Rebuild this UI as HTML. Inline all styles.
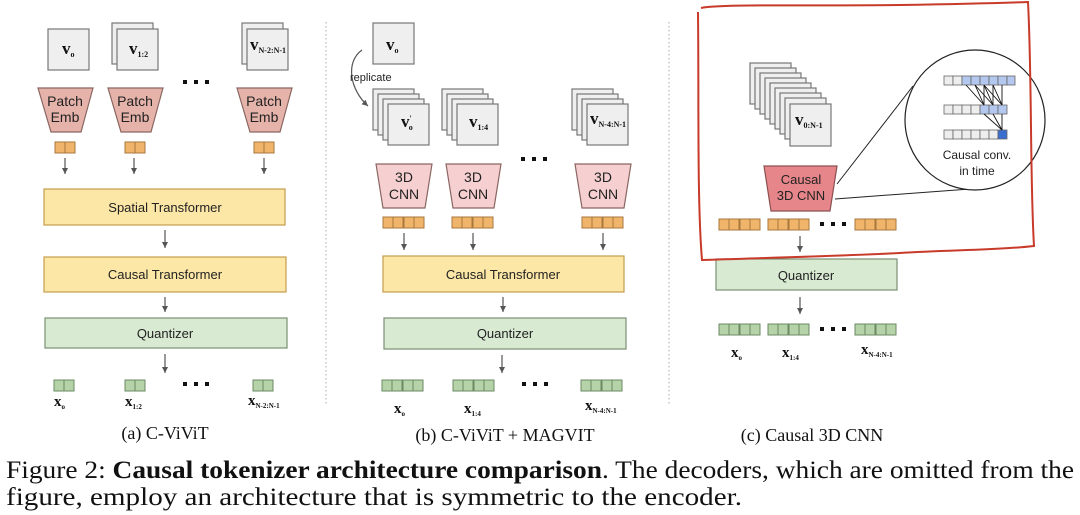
<!DOCTYPE html>
<html><head><meta charset="utf-8"><style>
html,body{margin:0;padding:0;background:#fff;width:1080px;height:515px;overflow:hidden}
svg{display:block}
.s{font-family:"Liberation Sans",sans-serif;fill:#222}
.r{font-family:"Liberation Serif",serif;fill:#111}
</style></head><body>
<svg width="1080" height="515" viewBox="0 0 1080 515" xmlns="http://www.w3.org/2000/svg">
<defs>
<marker id="ah" markerWidth="7" markerHeight="7" refX="6" refY="3" orient="auto" markerUnits="userSpaceOnUse"><path d="M0,0 L6,3 L0,6 z" fill="#555"/></marker>
<g id="o2"><rect x="0" y="0" width="10" height="11" fill="#f1b46b" stroke="#a8773c"/><rect x="10" y="0" width="10" height="11" fill="#f1b46b" stroke="#a8773c"/></g>
<g id="o4"><use href="#o2"/><use href="#o2" x="21"/></g>
<g id="g2"><rect x="0" y="0" width="10" height="11" fill="#b6d2a8" stroke="#6b8a62"/><rect x="10" y="0" width="10" height="11" fill="#b6d2a8" stroke="#6b8a62"/></g>
<g id="g4"><use href="#g2"/><use href="#g2" x="21"/></g>
<g id="fr"><rect x="0" y="0" width="41" height="41" fill="#efefef" stroke="#777" stroke-width="1.2"/></g>
<g id="dots"><rect x="0" y="0" width="4" height="4" fill="#111"/><rect x="11" y="0" width="4" height="4" fill="#111"/><rect x="22" y="0" width="4" height="4" fill="#111"/></g>
</defs>

<!-- Panel A -->
<use href="#fr" x="48" y="29"/>
<text x="62" y="54" class="r" font-size="17" font-weight="bold">v<tspan font-size="8" dy="3">o</tspan></text>
<use href="#fr" x="112" y="23"/><use href="#fr" x="117" y="29"/>
<text x="129" y="54" class="r" font-size="17" font-weight="bold">v<tspan font-size="8" dy="3">1:2</tspan></text>
<use href="#fr" x="242" y="23"/><use href="#fr" x="247" y="29"/>
<text x="250" y="50" class="r" font-size="17" font-weight="bold">v<tspan font-size="8" dy="3">N-2:N-1</tspan></text>
<use href="#dots" x="183" y="80"/>
<g fill="#e6b3ab" stroke="#8a6660" stroke-width="1.2">
<polygon points="38,88 93,88 81,132 51,132"/>
<polygon points="108,88 163,88 151,132 121,132"/>
<polygon points="237,88 292,88 280,132 250,132"/>
</g>
<g class="s" font-size="14" text-anchor="middle" fill="#3a1a1a">
<text x="65" y="106">Patch</text><text x="65" y="122">Emb</text>
<text x="135" y="106">Patch</text><text x="135" y="122">Emb</text>
<text x="264" y="106">Patch</text><text x="264" y="122">Emb</text>
</g>
<use href="#o2" x="55" y="142"/><use href="#o2" x="125" y="142"/><use href="#o2" x="254" y="142"/>
<g stroke="#555" stroke-width="1.2" marker-end="url(#ah)">
<line x1="65" y1="158" x2="65" y2="174"/><line x1="134" y1="158" x2="134" y2="174"/><line x1="264" y1="158" x2="264" y2="174"/>
<line x1="165" y1="230" x2="165" y2="248"/><line x1="165" y1="297" x2="165" y2="312"/><line x1="165" y1="354" x2="165" y2="373"/>
</g>
<rect x="44" y="189" width="241" height="36" fill="#fce7a6" stroke="#c49c4c" stroke-width="1.2"/>
<text x="165" y="212" class="s" font-size="13" text-anchor="middle">Spatial Transformer</text>
<rect x="44" y="257" width="242" height="35" fill="#fce7a6" stroke="#c49c4c" stroke-width="1.2"/>
<text x="165" y="279" class="s" font-size="13" text-anchor="middle">Causal Transformer</text>
<rect x="45" y="318" width="242" height="30" fill="#d9ead3" stroke="#7a8f74" stroke-width="1.2"/>
<text x="165" y="338" class="s" font-size="13" text-anchor="middle">Quantizer</text>
<use href="#g2" x="54" y="380"/><use href="#g2" x="125" y="380"/><use href="#g2" x="253" y="380"/>
<use href="#dots" x="183" y="382"/>
<text x="54" y="406" class="r" font-size="15" font-weight="bold">x<tspan font-size="7" dy="3">o</tspan></text>
<text x="125" y="406" class="r" font-size="15" font-weight="bold">x<tspan font-size="7" dy="3">1:2</tspan></text>
<text x="248" y="405" class="r" font-size="15" font-weight="bold">x<tspan font-size="7" dy="3">N-2:N-1</tspan></text>
<text x="165" y="439" class="r" font-size="18" text-anchor="middle">(a) C-ViViT</text>

<line x1="326" y1="22" x2="326" y2="405" stroke="#aaa" stroke-dasharray="1.5,2.5"/>

<!-- Panel B -->
<use href="#fr" x="373" y="23"/>
<text x="386" y="50" class="r" font-size="17" font-weight="bold">v<tspan font-size="8" dy="3">o</tspan></text>
<path d="M362,50 C345,62 350,90 368,106" fill="none" stroke="#555" stroke-width="1.2" marker-end="url(#ah)"/>
<text x="350" y="81" class="s" font-size="11" fill="#444">replicate</text>
<g>
<use href="#fr" x="373" y="89"/><use href="#fr" x="378" y="94"/><use href="#fr" x="383" y="99"/><use href="#fr" x="388" y="104"/>
<use href="#fr" x="442" y="89"/><use href="#fr" x="447" y="94"/><use href="#fr" x="452" y="99"/><use href="#fr" x="457" y="104"/>
<use href="#fr" x="572" y="89"/><use href="#fr" x="577" y="94"/><use href="#fr" x="582" y="99"/><use href="#fr" x="587" y="104"/>
</g>
<text x="401" y="127" class="r" font-size="17" font-weight="bold">v<tspan font-size="8" dy="-6">'</tspan><tspan font-size="8" dy="9" dx="-3">o</tspan></text>
<text x="469" y="127" class="r" font-size="17" font-weight="bold">v<tspan font-size="8" dy="3">1:4</tspan></text>
<text x="590" y="124" class="r" font-size="17" font-weight="bold">v<tspan font-size="8" dy="3">N-4:N-1</tspan></text>
<use href="#dots" x="521" y="157"/>
<g fill="#f6cfd0" stroke="#8a6660" stroke-width="1.2">
<polygon points="376,164 432,164 425,208 383,208"/>
<polygon points="446,164 501,164 494,208 453,208"/>
<polygon points="575,164 631,164 624,208 582,208"/>
</g>
<g class="s" font-size="14" text-anchor="middle" fill="#3a1a1a">
<text x="404" y="182">3D</text><text x="404" y="199">CNN</text>
<text x="473" y="182">3D</text><text x="473" y="199">CNN</text>
<text x="603" y="182">3D</text><text x="603" y="199">CNN</text>
</g>
<use href="#o4" x="383" y="217"/><use href="#o4" x="452" y="217"/><use href="#o4" x="582" y="217"/>
<g stroke="#555" stroke-width="1.2" marker-end="url(#ah)">
<line x1="404" y1="233" x2="404" y2="250"/><line x1="473" y1="233" x2="473" y2="250"/><line x1="603" y1="233" x2="603" y2="250"/>
<line x1="503" y1="297" x2="503" y2="312"/><line x1="502" y1="355" x2="502" y2="373"/>
</g>
<rect x="383" y="256" width="241" height="36" fill="#fce7a6" stroke="#c49c4c" stroke-width="1.2"/>
<text x="503" y="279" class="s" font-size="13" text-anchor="middle">Causal Transformer</text>
<rect x="384" y="318" width="242" height="31" fill="#d9ead3" stroke="#7a8f74" stroke-width="1.2"/>
<text x="505" y="338" class="s" font-size="13" text-anchor="middle">Quantizer</text>
<use href="#g4" x="382" y="380"/><use href="#g4" x="453" y="380"/><use href="#g4" x="581" y="380"/>
<use href="#dots" x="522" y="382"/>
<text x="394" y="413" class="r" font-size="15" font-weight="bold">x<tspan font-size="7" dy="3">o</tspan></text>
<text x="464" y="413" class="r" font-size="15" font-weight="bold">x<tspan font-size="7" dy="3">1:4</tspan></text>
<text x="585" y="410" class="r" font-size="15" font-weight="bold">x<tspan font-size="7" dy="3">N-4:N-1</tspan></text>
<text x="505" y="441" class="r" font-size="18" text-anchor="middle">(b) C-ViViT + MAGVIT</text>

<line x1="669" y1="22" x2="669" y2="405" stroke="#aaa" stroke-dasharray="1.5,2.5"/>

<!-- Panel C -->
<g>
<use href="#fr" x="750" y="63"/><use href="#fr" x="755" y="68"/><use href="#fr" x="760" y="73"/><use href="#fr" x="765" y="78"/>
<use href="#fr" x="770" y="83"/><use href="#fr" x="775" y="88"/><use href="#fr" x="780" y="93"/><use href="#fr" x="785" y="98"/>
<rect x="790" y="104" width="41" height="42" fill="#efefef" stroke="#777" stroke-width="1.2"/>
</g>
<text x="795" y="125" class="r" font-size="17" font-weight="bold">v<tspan font-size="8" dy="3">0:N-1</tspan></text>
<polygon points="764,166 837,166 830,211 771,211" fill="#e7868a" stroke="#8a5050" stroke-width="1.2"/>
<text x="801" y="184" class="s" font-size="13" text-anchor="middle" fill="#3a1010">Causal</text>
<text x="801" y="200" class="s" font-size="13" text-anchor="middle" fill="#3a1010">3D CNN</text>
<line x1="837" y1="184" x2="913" y2="86" stroke="#222" stroke-width="1"/>
<line x1="835" y1="199" x2="970" y2="189" stroke="#222" stroke-width="1"/>
<circle cx="975" cy="120" r="70" fill="#fff" stroke="#222" stroke-width="1.2"/>
<g stroke="#666" stroke-width="0.8">
<g fill="#eee"><rect x="944" y="76" width="9" height="9"/><rect x="953" y="76" width="9" height="9"/></g>
<g fill="#b4c7ee"><rect x="962" y="76" width="9" height="9"/><rect x="971" y="76" width="9" height="9"/><rect x="980" y="76" width="9" height="9"/><rect x="989" y="76" width="9" height="9"/><rect x="998" y="76" width="9" height="9"/><rect x="1007" y="76" width="8" height="9"/></g>
<g fill="#eee"><rect x="944" y="105" width="9" height="9"/><rect x="953" y="105" width="9" height="9"/><rect x="962" y="105" width="9" height="9"/><rect x="971" y="105" width="9" height="9"/></g>
<g fill="#b4c7ee"><rect x="980" y="105" width="9" height="9"/><rect x="989" y="105" width="9" height="9"/><rect x="998" y="105" width="9" height="9"/></g>
<g fill="#eee"><rect x="944" y="130" width="9" height="9"/><rect x="953" y="130" width="9" height="9"/><rect x="962" y="130" width="9" height="9"/><rect x="971" y="130" width="9" height="9"/><rect x="980" y="130" width="9" height="9"/><rect x="989" y="130" width="9" height="9"/></g>
<rect x="998" y="130" width="9" height="9" fill="#3a6fd0"/>
</g>
<g stroke="#111" stroke-width="0.9">
<line x1="966" y1="85" x2="984" y2="105"/><line x1="975" y1="85" x2="984" y2="105"/><line x1="984" y1="85" x2="984" y2="105"/>
<line x1="975" y1="85" x2="993" y2="105"/><line x1="984" y1="85" x2="993" y2="105"/><line x1="993" y1="85" x2="993" y2="105"/>
<line x1="984" y1="85" x2="1002" y2="105"/><line x1="993" y1="85" x2="1002" y2="105"/><line x1="1002" y1="85" x2="1002" y2="105"/>
<line x1="984" y1="114" x2="1002" y2="130"/><line x1="993" y1="114" x2="1002" y2="130"/><line x1="1002" y1="114" x2="1002" y2="130"/>
</g>
<text x="977" y="159" class="s" font-size="12" text-anchor="middle">Causal conv.</text>
<text x="977" y="175" class="s" font-size="12" text-anchor="middle">in time</text>
<use href="#o4" x="719" y="219"/><use href="#o4" x="768" y="219"/>
<use href="#dots" x="820" y="222"/>
<use href="#o4" x="855" y="219"/>
<line x1="800" y1="236" x2="800" y2="252" stroke="#555" stroke-width="1.2" marker-end="url(#ah)"/>
<rect x="716" y="259" width="181" height="31" fill="#d9ead3" stroke="#7a8f74" stroke-width="1.2"/>
<text x="806" y="280" class="s" font-size="13" text-anchor="middle">Quantizer</text>
<line x1="800" y1="297" x2="800" y2="314" stroke="#555" stroke-width="1.2" marker-end="url(#ah)"/>
<use href="#g4" x="719" y="324"/><use href="#g4" x="768" y="324"/>
<use href="#dots" x="820" y="327"/>
<use href="#g4" x="855" y="324"/>
<text x="731" y="357" class="r" font-size="15" font-weight="bold">x<tspan font-size="7" dy="3">o</tspan></text>
<text x="782" y="357" class="r" font-size="15" font-weight="bold">x<tspan font-size="7" dy="3">1:4</tspan></text>
<text x="861" y="354" class="r" font-size="15" font-weight="bold">x<tspan font-size="7" dy="3">N-4:N-1</tspan></text>
<text x="812" y="441" class="r" font-size="18" text-anchor="middle">(c) Causal 3D CNN</text>

<!-- red hand-drawn box -->
<path d="M701,8 C720,4 800,6 900,5 C960,4 1000,3 1028,2 C1032,80 1030,180 1034,246 C1000,250 950,250 900,253 C840,256 760,258 702,260 C697,200 699,100 698,12" fill="none" stroke="#c83a2a" stroke-width="2"/>

<!-- caption -->
<text x="6" y="478" class="r" font-size="25" textLength="1068" lengthAdjust="spacingAndGlyphs">Figure 2: <tspan font-weight="bold">Causal tokenizer architecture comparison</tspan>. The decoders, which are omitted from the</text>
<text x="6" y="505" class="r" font-size="25" textLength="736" lengthAdjust="spacingAndGlyphs">figure, employ an architecture that is symmetric to the encoder.</text>
</svg>
</body></html>
